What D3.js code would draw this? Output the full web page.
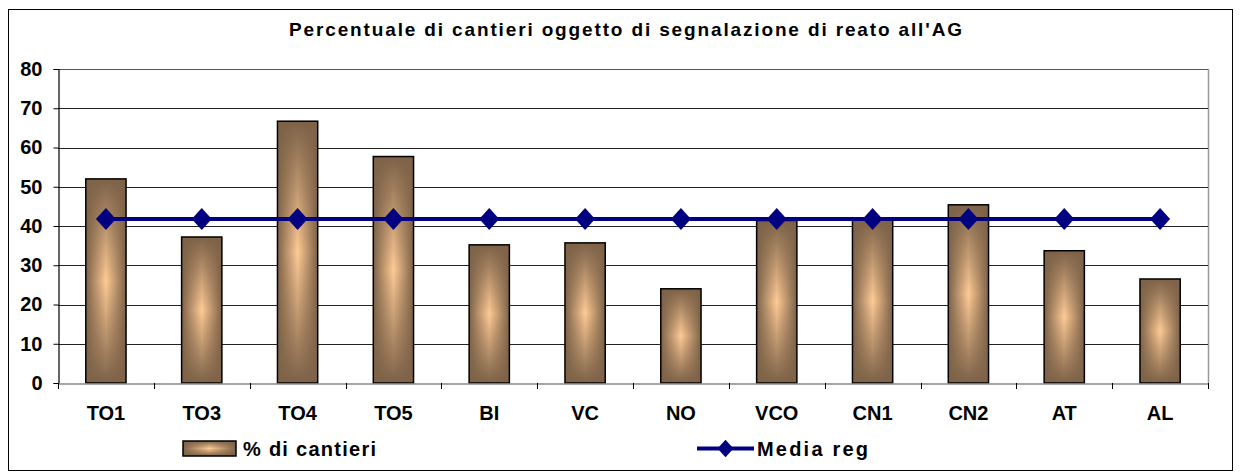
<!DOCTYPE html>
<html>
<head>
<meta charset="utf-8">
<script src="https://cdn.jsdelivr.net/npm/d3@7"></script>
<style>
  body { margin: 0; background: #fff; }
  svg text { font-family: "Liberation Sans", Arial, sans-serif; font-weight: bold; fill: #000; }
</style>
</head>
<body>
<svg width="1242" height="476"></svg>
<script>
// data
var categories = ["TO1", "TO3", "TO4", "TO5", "BI", "VC", "NO", "VCO", "CN1", "CN2", "AT", "AL"];
var percCantieri = [52, 37.2, 66.7, 57.7, 35.2, 35.7, 24, 41.4, 41.9, 45.4, 33.7, 26.5];
var mediaReg = [41.8, 41.8, 41.8, 41.8, 41.8, 41.8, 41.8, 41.8, 41.8, 41.8, 41.8, 41.8];
var yTicks = [0, 10, 20, 30, 40, 50, 60, 70, 80];
var title = "Percentuale di cantieri oggetto di segnalazione di reato all'AG";
var seriesNames = ["% di cantieri", "Media reg"];

var svg = d3.select("svg");

// gradients for the bars (dark edges, light centre)
var defs = svg.append("defs");
var hGrad = defs.append("linearGradient").attr("id", "hGrad")
    .attr("x1", "0").attr("x2", "1").attr("y1", "0").attr("y2", "0");
hGrad.append("stop").attr("offset", "0").attr("stop-color", "#7d6248");
hGrad.append("stop").attr("offset", "0.5").attr("stop-color", "#ffcb95");
hGrad.append("stop").attr("offset", "1").attr("stop-color", "#7d6248");
var vGrad = defs.append("linearGradient").attr("id", "vGrad")
    .attr("x1", "0").attr("x2", "0").attr("y1", "0").attr("y2", "1");
vGrad.append("stop").attr("offset", "0").attr("stop-color", "#7d6248").attr("stop-opacity", 1);
vGrad.append("stop").attr("offset", "0.5").attr("stop-color", "#7d6248").attr("stop-opacity", 0);
vGrad.append("stop").attr("offset", "1").attr("stop-color", "#7d6248").attr("stop-opacity", 1);

// outer frame
svg.append("rect")
    .attr("x", 8.5).attr("y", 9.5)
    .attr("width", 1224).attr("height", 461)
    .attr("fill", "none").attr("stroke", "#000").attr("stroke-width", 1);

// title
svg.append("text")
    .attr("x", 289).attr("y", 36)
    .attr("font-size", 19)
    .attr("textLength", 673).attr("lengthAdjust", "spacing")
    .text(title);

var plotLeft = 58, plotRight = 1208, plotTop = 69, plotBottom = 383;

var xScale = d3.scaleBand()
    .domain(categories)
    .range([plotLeft, plotRight])
    .padding(0);

var yScale = d3.scaleLinear()
    .domain([0, 80])
    .range([plotBottom, plotTop]);

var barW = xScale.bandwidth() * 0.42;
function cx(d) { return xScale(d) + xScale.bandwidth() / 2; }

// plot area right border
svg.append("line")
    .attr("x1", plotRight + 0.5).attr("x2", plotRight + 0.5)
    .attr("y1", plotTop).attr("y2", plotBottom)
    .attr("stroke", "#999").attr("stroke-width", 1.5);

// gridlines + y axis
svg.append("g").selectAll("line")
    .data(yTicks.filter(function(t) { return t > 0; }))
    .enter().append("line")
    .attr("x1", plotLeft).attr("x2", plotRight)
    .attr("y1", function(d) { return Math.round(yScale(d)) + 0.5; })
    .attr("y2", function(d) { return Math.round(yScale(d)) + 0.5; })
    .attr("stroke", function(d) { return d === 80 ? "#555" : "#222"; })
    .attr("stroke-width", 1);

var yAxis = d3.axisLeft(yScale)
    .tickValues(yTicks)
    .tickSize(5)
    .tickPadding(11);
var gY = svg.append("g")
    .attr("transform", "translate(" + (plotLeft + 0.5) + ",0)")
    .call(yAxis);
gY.select(".domain").attr("stroke", "#000").attr("stroke-width", 1.2);
gY.selectAll(".tick line").attr("stroke", "#000");
gY.selectAll(".tick text")
    .attr("font-size", 20)
    .attr("font-family", "Liberation Sans, Arial, sans-serif")
    .attr("font-weight", "bold")
    .attr("fill", "#000");

// bars
var bars = svg.append("g").selectAll("g")
    .data(categories)
    .enter().append("g");
bars.append("rect")
    .attr("x", function(d) { return cx(d) - barW / 2; })
    .attr("y", function(d, i) { return yScale(percCantieri[i]); })
    .attr("width", barW)
    .attr("height", function(d, i) { return plotBottom - yScale(percCantieri[i]); })
    .attr("fill", "url(#hGrad)");
bars.append("rect")
    .attr("x", function(d) { return cx(d) - barW / 2; })
    .attr("y", function(d, i) { return yScale(percCantieri[i]); })
    .attr("width", barW)
    .attr("height", function(d, i) { return plotBottom - yScale(percCantieri[i]); })
    .attr("fill", "url(#vGrad)")
    .attr("stroke", "#000")
    .attr("stroke-width", 1.5);

// x axis
var xAxis = d3.axisBottom(xScale).tickSize(0).tickPadding(22);
var gX = svg.append("g")
    .attr("transform", "translate(0," + (plotBottom + 0.5) + ")")
    .call(xAxis);
gX.select(".domain").attr("stroke", "#888").attr("stroke-width", 1.5);
gX.selectAll(".tick text")
    .attr("font-size", 20)
    .attr("font-family", "Liberation Sans, Arial, sans-serif")
    .attr("font-weight", "bold")
    .attr("fill", "#000");
// category boundary ticks
svg.append("g").selectAll("line")
    .data(categories.concat(["end"]))
    .enter().append("line")
    .attr("x1", function(d, i) { return Math.round(plotLeft + i * xScale.step()) + 0.5; })
    .attr("x2", function(d, i) { return Math.round(plotLeft + i * xScale.step()) + 0.5; })
    .attr("y1", plotBottom).attr("y2", plotBottom + 6)
    .attr("stroke", "#000");

// media line
var line = d3.line()
    .x(function(d, i) { return cx(categories[i]); })
    .y(function(d) { return yScale(d); });
svg.append("path")
    .datum(mediaReg)
    .attr("d", line)
    .attr("fill", "none")
    .attr("stroke", "#000080")
    .attr("stroke-width", 4);

var diamond = "M0,-11L10,0L0,11L-10,0Z";
svg.append("g").selectAll("path")
    .data(mediaReg)
    .enter().append("path")
    .attr("d", diamond)
    .attr("transform", function(d, i) { return "translate(" + cx(categories[i]) + "," + yScale(d) + ")"; })
    .attr("fill", "#000080");

// legend
svg.append("rect")
    .attr("x", 183).attr("y", 441)
    .attr("width", 53).attr("height", 15)
    .attr("fill", "url(#hGrad)");
svg.append("rect")
    .attr("x", 183).attr("y", 441)
    .attr("width", 53).attr("height", 15)
    .attr("fill", "url(#vGrad)")
    .attr("stroke", "#000").attr("stroke-width", 1.5);
svg.append("text")
    .attr("x", 243).attr("y", 456)
    .attr("font-size", 20)
    .attr("textLength", 133).attr("lengthAdjust", "spacing")
    .text(seriesNames[0]);

svg.append("line")
    .attr("x1", 697).attr("x2", 754)
    .attr("y1", 448.5).attr("y2", 448.5)
    .attr("stroke", "#000080").attr("stroke-width", 4);
svg.append("path")
    .attr("d", diamond)
    .attr("transform", "translate(725.5,448.5) scale(0.8)")
    .attr("fill", "#000080");
svg.append("text")
    .attr("x", 757).attr("y", 456)
    .attr("font-size", 20)
    .attr("textLength", 111).attr("lengthAdjust", "spacing")
    .text(seriesNames[1]);
</script>
</body>
</html>
